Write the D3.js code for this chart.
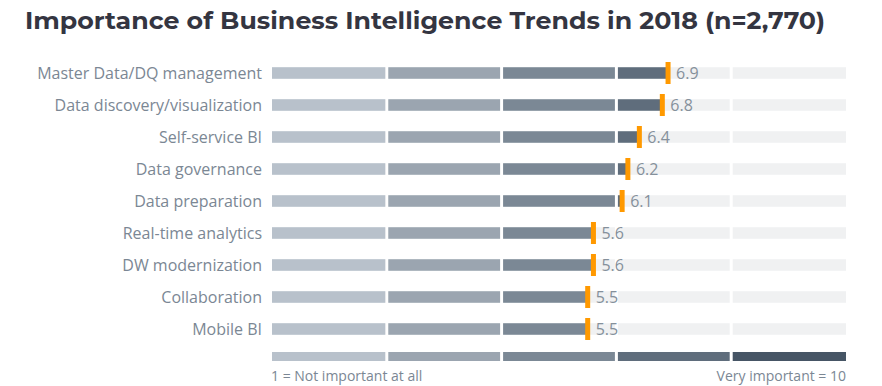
<!DOCTYPE html>
<html><head><meta charset="utf-8">
<script src="https://cdn.jsdelivr.net/npm/d3@7"></script>
<style>body{margin:0;background:#fff;}svg{display:block;}</style>
</head><body>
<svg id="c" width="882" height="386"></svg>
<script>
const categories = ["Master Data/DQ management","Data discovery/visualization","Self-service BI","Data governance","Data preparation","Real-time analytics","DW modernization","Collaboration","Mobile BI"];
const values = [6.9, 6.8, 6.4, 6.2, 6.1, 5.6, 5.6, 5.5, 5.5];
const segmentBreaks = [0, 2, 4, 6, 8, 10];
const segmentColors = ["#b8c1cb", "#9ba5b0", "#7b8895", "#5f6d7c", "#465565"];
const title = "Importance of Business Intelligence Trends in 2018 (n=2,770)";
const leftLabel = "1 = Not important at all";
const rightLabel = "Very important = 10";

const svg = d3.select("#c");
const x = d3.scaleLinear().domain([0, 10]).range([272, 846]);
const y = d3.scaleBand().domain(categories).range([57, 345]).paddingInner(0.64).paddingOuter(0.32);
const gap = 1.5;

svg.append("text").attr("x", 25).attr("y", 29)
  .attr("font-family", "Montserrat, 'Open Sans', sans-serif").attr("font-weight", 700)
  .attr("font-size", 24).attr("fill", "#343541")
  .attr("textLength", 800).attr("lengthAdjust", "spacingAndGlyphs").text(title);

const segs = d3.range(5).map(i => ({a: segmentBreaks[i], b: segmentBreaks[i+1], c: segmentColors[i]}));

const rows = svg.selectAll("g.row").data(categories.map((c, i) => ({c, v: values[i]}))).join("g").attr("class", "row")
  .attr("transform", d => `translate(0,${y(d.c)})`);
const bh = y.bandwidth();

rows.append("text").attr("x", 262).attr("y", bh/2).attr("dy", "0.35em")
  .attr("text-anchor", "end").attr("font-family", "'Open Sans', sans-serif").attr("font-size", 16)
  .attr("fill", "#7b8794").text(d => d.c);

rows.each(function(d) {
  const g = d3.select(this);
  segs.forEach((s, i) => {
    const x0 = x(s.a) + (i > 0 ? gap : 0), x1 = x(s.b) - (i < 4 ? gap : 0);
    g.append("rect").attr("x", x0).attr("y", 0).attr("width", x1 - x0).attr("height", bh).attr("fill", "#f0f1f2");
    if (d.v > s.a) {
      const xe = Math.min(x1, x(d.v));
      g.append("rect").attr("x", x0).attr("y", 0).attr("width", Math.max(0, xe - x0)).attr("height", bh).attr("fill", s.c);
    }
  });
  g.append("rect").attr("x", x(d.v) - 2.5).attr("y", bh/2 - 11).attr("width", 5).attr("height", 22).attr("fill", "#ff9900");
  g.append("text").attr("x", x(d.v) + 8).attr("y", bh/2).attr("dy", "0.36em")
    .attr("font-family", "'Open Sans', sans-serif").attr("font-size", 16).attr("fill", "#85909b").text(d.v.toFixed(1));
});

const leg = svg.append("g");
segs.forEach((s, i) => {
  const x0 = x(s.a) + (i > 0 ? gap : 0), x1 = x(s.b) - (i < 4 ? gap : 0);
  leg.append("rect").attr("x", x0).attr("y", 352).attr("width", x1 - x0).attr("height", 9).attr("fill", s.c);
});
leg.append("text").attr("x", 271).attr("y", 381).attr("font-family", "'Open Sans', sans-serif").attr("font-size", 14)
  .attr("fill", "#7b8794").text(leftLabel);
leg.append("text").attr("x", 846).attr("y", 381).attr("text-anchor", "end").attr("font-family", "'Open Sans', sans-serif").attr("font-size", 14)
  .attr("fill", "#7b8794").text(rightLabel);
</script>
</body></html>
